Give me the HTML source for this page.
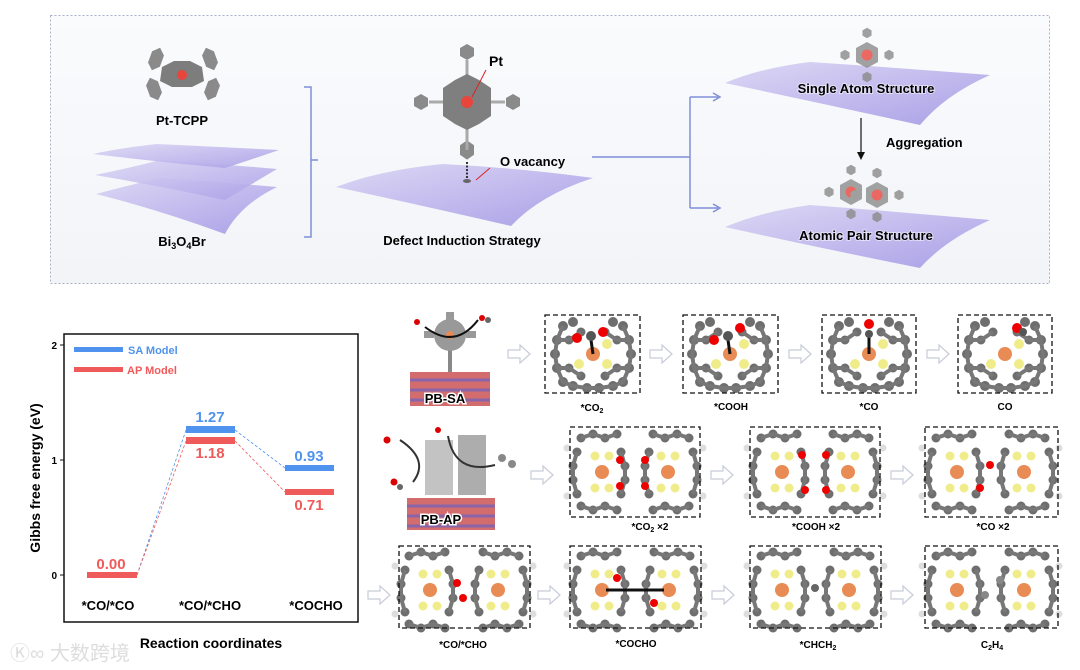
<!DOCTYPE html>
<html><head><meta charset="utf-8"><style>
html,body{margin:0;padding:0;background:#fff;}
svg{display:block;font-family:"Liberation Sans",Arial,sans-serif;}
</style></head><body>
<svg width="1080" height="670" viewBox="0 0 1080 670" xmlns="http://www.w3.org/2000/svg">
<defs>
<linearGradient id="sheet" x1="0" y1="0" x2="1" y2="1">
<stop offset="0" stop-color="#dcd8f4"/><stop offset="0.5" stop-color="#c4bcee"/><stop offset="1" stop-color="#a99fe6"/>
</linearGradient>
<linearGradient id="bg" x1="0" y1="0" x2="0" y2="1"><stop offset="0" stop-color="#fafbfd"/><stop offset="1" stop-color="#f2f4f8"/></linearGradient>
<g id="hex"><polygon points="0,-8 7,-4 7,4 0,8 -7,4 -7,-4" fill="#8a8a8a"/></g>
<g id="ring">
<g fill="#6e6e6e">
<circle cx="-30" cy="-28" r="5"/><circle cx="-20" cy="-32" r="5"/><circle cx="20" cy="-32" r="5"/><circle cx="30" cy="-28" r="5"/>
<circle cx="-36" cy="-14" r="5"/><circle cx="-38" cy="0" r="5"/><circle cx="-36" cy="14" r="5"/>
<circle cx="36" cy="-14" r="5"/><circle cx="38" cy="0" r="5"/><circle cx="36" cy="14" r="5"/>
<circle cx="-30" cy="28" r="5"/><circle cx="-20" cy="32" r="5"/><circle cx="-6" cy="34" r="5"/><circle cx="6" cy="34" r="5"/><circle cx="20" cy="32" r="5"/><circle cx="30" cy="28" r="5"/>
<circle cx="-24" cy="-14" r="4.5"/><circle cx="24" cy="-14" r="4.5"/><circle cx="-24" cy="14" r="4.5"/><circle cx="24" cy="14" r="4.5"/>
<circle cx="-12" cy="22" r="4.5"/><circle cx="12" cy="22" r="4.5"/><circle cx="-12" cy="-22" r="4.5"/><circle cx="12" cy="-22" r="4.5"/>
</g>
<g stroke="#777" stroke-width="4" fill="none">
<path d="M-30,-28 L-36,-14 L-38,0 L-36,14 L-30,28 L-20,32 L-6,34 L6,34 L20,32 L30,28 L36,14 L38,0 L36,-14 L30,-28"/>
<path d="M-24,-14 L-12,-22 M24,-14 L12,-22 M-24,14 L-12,22 M24,14 L12,22 M-36,-14 L-24,-14 M36,-14 L24,-14 M-36,14 L-24,14 M36,14 L24,14"/>
</g>
<circle cx="-14" cy="10" r="5" fill="#f0ec8a"/><circle cx="14" cy="10" r="5" fill="#f0ec8a"/><circle cx="14" cy="-10" r="5" fill="#f0ec8a"/>
<circle r="7" fill="#e98b55"/>
</g>
<g id="half">
<g fill="#6e6e6e">
<circle cx="-22" cy="-34" r="4.5"/><circle cx="-10" cy="-38" r="4.5"/><circle cx="2" cy="-34" r="4.5"/><circle cx="14" cy="-38" r="4.5"/>
<circle cx="-26" cy="-20" r="4.5"/><circle cx="18" cy="-20" r="4.5"/><circle cx="-30" cy="-6" r="4.5"/><circle cx="22" cy="-6" r="4.5"/>
<circle cx="-30" cy="8" r="4.5"/><circle cx="22" cy="8" r="4.5"/><circle cx="-26" cy="22" r="4.5"/><circle cx="18" cy="22" r="4.5"/>
<circle cx="-22" cy="34" r="4.5"/><circle cx="-10" cy="38" r="4.5"/><circle cx="2" cy="34" r="4.5"/><circle cx="14" cy="38" r="4.5"/>
</g>
<g stroke="#777" stroke-width="4" fill="none"><path d="M-22,-34 L-10,-38 L2,-34 L14,-38 M-22,34 L-10,38 L2,34 L14,38 M-26,-20 L-30,-6 L-30,8 L-26,22 M18,-20 L22,-6 L22,8 L18,22"/></g>
<circle cx="-8" cy="-16" r="4.5" fill="#f0ec8a"/><circle cx="6" cy="-16" r="4.5" fill="#f0ec8a"/><circle cx="-8" cy="16" r="4.5" fill="#f0ec8a"/><circle cx="6" cy="16" r="4.5" fill="#f0ec8a"/>
<circle cx="-1" cy="0" r="7" fill="#e98b55"/>
<circle cx="-36" cy="-24" r="3.5" fill="#ddd"/><circle cx="-36" cy="24" r="3.5" fill="#ddd"/>
</g>
<g id="arr"><path d="M0,-4 H12 V-9 L22,0 L12,9 V4 H0 Z" fill="#fff" stroke="#c8ccd8" stroke-width="1.2"/></g>
<g id="mol">
<use href="#hex" transform="translate(0,-22) scale(0.65)"/><use href="#hex" transform="translate(-22,0) scale(0.65)"/><use href="#hex" transform="translate(22,0) scale(0.65)"/><use href="#hex" transform="translate(0,22) scale(0.65)"/>
<polygon points="0,-13 11,-7 11,7 0,13 -11,7 -11,-7" fill="#8c8c8c"/><circle r="5.5" fill="#e8453c"/>
</g>
</defs>

<!-- top panel -->
<rect x="50.5" y="15.5" width="999" height="268" fill="url(#bg)" stroke="#a9b0c8" stroke-dasharray="2,2"/>
<!-- Pt-TCPP -->
<g transform="translate(182,75)">
<use href="#hex" transform="translate(-26,-16) rotate(20) scale(0.9,1.5)"/><use href="#hex" transform="translate(28,-16) rotate(-20) scale(0.9,1.5)"/>
<use href="#hex" transform="translate(-28,14) rotate(-20) scale(0.9,1.5)"/><use href="#hex" transform="translate(30,14) rotate(20) scale(0.9,1.5)"/>
<polygon points="-20,-8 -8,-14 8,-14 20,-8 22,6 10,12 -10,12 -22,6" fill="#7d7d7d"/><circle r="5" fill="#e8453c"/>
</g>
<text x="182" y="125" font-size="13" font-weight="bold" text-anchor="middle">Pt-TCPP</text>
<!-- Bi3O4Br stack -->
<g fill="url(#sheet)">
<path d="M96,194 Q130,185 160,178 Q220,182 277,187 Q240,205 225,234 Q160,210 96,194 Z"/>
<path d="M95,175 Q130,168 160,160 Q220,164 277,169 Q250,185 225,200 Q160,186 95,175 Z" opacity="0.92"/>
<path d="M93,154 Q120,148 157,144 Q220,147 279,150 Q250,160 225,168 Q160,162 93,154 Z" opacity="0.92"/>
</g>
<text x="182" y="246" font-size="13" font-weight="bold" text-anchor="middle">Bi<tspan font-size="9" dy="3">3</tspan><tspan dy="-3">O</tspan><tspan font-size="9" dy="3">4</tspan><tspan dy="-3">Br</tspan></text>
<!-- bracket -->
<path d="M304,87 H311 V237 H304 M311,160 H318" fill="none" stroke="#7f8fd8" stroke-width="1.5"/>
<!-- center -->
<path d="M336,187 Q380,170 443,164 Q520,168 593,178 Q540,195 511,226 Q420,205 336,187 Z" fill="url(#sheet)"/>
<g transform="translate(467,102)">
<use href="#hex" transform="translate(0,-50)"/><use href="#hex" transform="translate(-46,0)"/><use href="#hex" transform="translate(46,0)"/><use href="#hex" transform="translate(0,48) scale(1,1.2)"/>
<rect x="-1.5" y="-42" width="3" height="90" fill="#aaa"/><rect x="-38" y="-1.5" width="76" height="3" fill="#aaa"/>
<polygon points="0,-28 12,-22 24,-14 24,14 12,22 0,28 -12,22 -24,14 -24,-14 -12,-22" fill="#7f7f7f"/>
<circle r="6" fill="#e8453c"/>
</g>
<line x1="467" y1="162" x2="467" y2="180" stroke="#333" stroke-dasharray="2,1.5" stroke-width="2"/>
<ellipse cx="467" cy="181" rx="4" ry="2" fill="#666"/>
<line x1="486" y1="70" x2="472" y2="97" stroke="#d22" stroke-width="1"/>
<line x1="490" y1="168" x2="476" y2="180" stroke="#d22" stroke-width="1"/>
<text x="489" y="66" font-size="14" font-weight="bold">Pt</text>
<text x="500" y="166" font-size="13" font-weight="bold">O vacancy</text>
<text x="462" y="245" font-size="13" font-weight="bold" text-anchor="middle">Defect Induction Strategy</text>
<!-- connectors -->
<path d="M592,157 H690 M690,97 V208 M690,97 H718 M690,208 H718" fill="none" stroke="#7f8fd8" stroke-width="1.5"/>
<path d="M713,93 L720,97 L713,101 M713,204 L720,208 L713,212" fill="none" stroke="#7f8fd8" stroke-width="1.5"/>
<!-- right sheets -->
<path d="M725,83 Q760,68 810,62 Q900,68 990,75 Q945,95 920,125 Q820,103 725,83 Z" fill="url(#sheet)"/>
<path d="M725,227 Q760,212 810,205 Q900,212 990,220 Q945,240 920,268 Q820,248 725,227 Z" fill="url(#sheet)"/>
<g opacity="0.8"><use href="#mol" transform="translate(867,55)"/></g>
<g opacity="0.8"><use href="#mol" transform="translate(851,192)"/><use href="#mol" transform="translate(877,195)"/></g>
<text x="866" y="93" font-size="13" font-weight="bold" text-anchor="middle" stroke="#fff" stroke-width="2" stroke-opacity="0.5" paint-order="stroke">Single Atom Structure</text>
<text x="866" y="240" font-size="13" font-weight="bold" text-anchor="middle" stroke="#fff" stroke-width="2" stroke-opacity="0.5" paint-order="stroke">Atomic Pair Structure</text>
<line x1="861" y1="118" x2="861" y2="157" stroke="#111" stroke-width="1.2"/>
<path d="M857,152 L861,160 L865,152 Z" fill="#111"/>
<text x="886" y="147" font-size="13" font-weight="bold">Aggregation</text>

<!-- chart -->
<rect x="64" y="334" width="294" height="288" fill="#fff" stroke="#111" stroke-width="1.5"/>
<g font-size="10" font-weight="bold" text-anchor="end"><text x="57" y="349">2</text><text x="57" y="464">1</text><text x="57" y="579">0</text></g>
<path d="M60,345 H64 M60,460 H64 M60,575 H64" stroke="#111"/>
<text transform="translate(40,478) rotate(-90)" font-size="14" font-weight="bold" text-anchor="middle">Gibbs free energy (eV)</text>
<text x="211" y="648" font-size="14" font-weight="bold" text-anchor="middle">Reaction coordinates</text>
<g font-size="13" font-weight="bold" text-anchor="middle"><text x="108" y="610">*CO/*CO</text><text x="210" y="610">*CO/*CHO</text><text x="316" y="610">*COCHO</text></g>
<rect x="74" y="347" width="49" height="5" fill="#4f93ef"/><rect x="74" y="367" width="49" height="5" fill="#ef5a5a"/>
<text x="128" y="354" font-size="11" font-weight="bold" fill="#4f93ef">SA Model</text>
<text x="127" y="374" font-size="11" font-weight="bold" fill="#ef5a5a">AP Model</text>
<g stroke-width="0.8" stroke-dasharray="3,2" fill="none">
<path d="M137,575 L186,430 M235,430 L285,468" stroke="#4f93ef"/>
<path d="M137,575 L186,441 M235,441 L285,492" stroke="#ef5a5a"/>
</g>
<rect x="87" y="572" width="50" height="6" fill="#ef5a5a"/>
<rect x="186" y="426" width="49" height="7" fill="#4f93ef"/><rect x="186" y="437" width="49" height="7" fill="#ef5a5a"/>
<rect x="285" y="465" width="49" height="6" fill="#4f93ef"/><rect x="285" y="489" width="49" height="6" fill="#ef5a5a"/>
<g font-size="15" font-weight="bold" text-anchor="middle">
<text x="111" y="569" fill="#ef5a5a">0.00</text>
<text x="210" y="422" fill="#4f93ef">1.27</text><text x="210" y="458" fill="#ef5a5a">1.18</text>
<text x="309" y="461" fill="#4f93ef">0.93</text><text x="309" y="510" fill="#ef5a5a">0.71</text>
</g>
<!-- watermark -->
<text x="10" y="660" font-size="20" fill="#ddd" font-family="'Liberation Sans','Noto Sans CJK SC',sans-serif">Ⓚ∞ 大数跨境</text>

<!-- PB-SA model -->
<g>
<rect x="410" y="372" width="80" height="34" fill="#c84848" opacity="0.8"/>
<path d="M410,380 H490 M410,390 H490 M410,400 H490" stroke="#8a64a8" stroke-width="3"/>
<rect x="448" y="340" width="4" height="32" fill="#888"/>
<circle cx="450" cy="335" r="16" fill="#999"/><circle cx="450" cy="335" r="4" fill="#e98b55"/>
<rect x="446" y="312" width="8" height="8" fill="#999"/><rect x="424" y="331" width="10" height="7" fill="#999"/><rect x="466" y="331" width="10" height="7" fill="#999"/>
<path d="M425,327 Q455,350 478,320" stroke="#111" stroke-width="2" fill="none"/>
<circle cx="417" cy="322" r="3" fill="#d00"/><circle cx="482" cy="318" r="3" fill="#d00"/><circle cx="488" cy="320" r="3" fill="#666"/>
<text x="445" y="403" font-size="13" font-weight="bold" text-anchor="middle" stroke="#fff" stroke-width="3" paint-order="stroke">PB-SA</text>
</g>
<!-- PB-AP model -->
<g>
<rect x="407" y="498" width="88" height="32" fill="#c84848" opacity="0.8"/>
<path d="M407,506 H495 M407,516 H495 M407,526 H495" stroke="#8a64a8" stroke-width="3"/>
<rect x="425" y="440" width="28" height="55" fill="#aaa" opacity="0.7"/><rect x="458" y="435" width="28" height="60" fill="#999" opacity="0.8"/>
<path d="M400,440 Q430,460 413,482 M448,436 Q455,475 495,465" stroke="#333" stroke-width="2" fill="none"/>
<circle cx="387" cy="440" r="3.5" fill="#d00"/><circle cx="394" cy="482" r="3.5" fill="#d00"/><circle cx="400" cy="487" r="3" fill="#666"/><circle cx="438" cy="430" r="3" fill="#d00"/>
<circle cx="502" cy="458" r="4" fill="#888"/><circle cx="512" cy="464" r="4" fill="#888"/>
<text x="441" y="524" font-size="13" font-weight="bold" text-anchor="middle" stroke="#fff" stroke-width="3" paint-order="stroke">PB-AP</text>
</g>

<!-- row1 SA boxes -->
<g>
<g transform="translate(593,354)"><use href="#ring"/><line x1="0" y1="0" x2="-2" y2="-14" stroke="#111" stroke-width="3"/><circle cx="-16" cy="-16" r="5" fill="#e00"/><circle cx="-2" cy="-18" r="5" fill="#555"/><circle cx="10" cy="-22" r="5" fill="#e00"/></g>
<g transform="translate(730,354)"><use href="#ring"/><line x1="0" y1="0" x2="-2" y2="-14" stroke="#111" stroke-width="3"/><circle cx="-16" cy="-14" r="5" fill="#e00"/><circle cx="-2" cy="-18" r="5" fill="#555"/><circle cx="10" cy="-26" r="5" fill="#e00"/></g>
<g transform="translate(869,354)"><use href="#ring"/><line x1="0" y1="0" x2="0" y2="-18" stroke="#111" stroke-width="3"/><circle cx="0" cy="-20" r="4" fill="#555"/><circle cx="0" cy="-30" r="5" fill="#e00"/></g>
<g transform="translate(1005,354)"><use href="#ring"/><circle cx="12" cy="-26" r="5" fill="#e00"/><circle cx="18" cy="-22" r="4" fill="#555"/></g>
<g fill="none" stroke="#111" stroke-width="1.3" stroke-dasharray="5,3">
<rect x="545" y="315" width="95" height="78"/><rect x="683" y="315" width="95" height="78"/><rect x="822" y="315" width="94" height="78"/><rect x="958" y="315" width="94" height="78"/>
</g>
</g>
<g font-size="10" text-anchor="middle" font-weight="bold">
<text x="592" y="411">*CO<tspan font-size="7" dy="2">2</tspan></text><text x="731" y="410">*COOH</text><text x="869" y="410">*CO</text><text x="1005" y="410">CO</text>
</g>
<!-- row2 -->
<g>
<g transform="translate(603,472)"><use href="#half"/></g><g transform="translate(667,472) scale(-1,1)"><use href="#half"/></g>
<g transform="translate(783,472)"><use href="#half"/></g><g transform="translate(847,472) scale(-1,1)"><use href="#half"/></g>
<g transform="translate(958,472)"><use href="#half"/></g><g transform="translate(1023,472) scale(-1,1)"><use href="#half"/></g>
<g fill="#e00"><circle cx="620" cy="460" r="4"/><circle cx="620" cy="486" r="4"/><circle cx="645" cy="460" r="4"/><circle cx="645" cy="486" r="4"/>
<circle cx="802" cy="455" r="4"/><circle cx="805" cy="490" r="4"/><circle cx="826" cy="455" r="4"/><circle cx="826" cy="490" r="4"/>
<circle cx="990" cy="465" r="4"/><circle cx="980" cy="488" r="4"/></g>
<g fill="none" stroke="#111" stroke-width="1.3" stroke-dasharray="5,3">
<rect x="570" y="427" width="130" height="90"/><rect x="750" y="427" width="130" height="90"/><rect x="925" y="427" width="133" height="90"/>
</g>
</g>
<g font-size="10" text-anchor="middle" font-weight="bold">
<text x="650" y="530">*CO<tspan font-size="7" dy="2">2</tspan><tspan dy="-2"> ×2</tspan></text><text x="816" y="530">*COOH ×2</text><text x="993" y="530">*CO ×2</text>
</g>
<!-- row3 -->
<g>
<g transform="translate(431,590)"><use href="#half"/></g><g transform="translate(497,590) scale(-1,1)"><use href="#half"/></g>
<g transform="translate(603,590)"><use href="#half"/></g><g transform="translate(668,590) scale(-1,1)"><use href="#half"/></g>
<g transform="translate(783,590)"><use href="#half"/></g><g transform="translate(848,590) scale(-1,1)"><use href="#half"/></g>
<g transform="translate(958,590)"><use href="#half"/></g><g transform="translate(1023,590) scale(-1,1)"><use href="#half"/></g>
<g fill="#e00"><circle cx="457" cy="583" r="4"/><circle cx="463" cy="598" r="4"/><circle cx="617" cy="578" r="4"/><circle cx="654" cy="603" r="4"/></g>
<path d="M606,590 H664" stroke="#111" stroke-width="3"/>
<circle cx="815" cy="588" r="4" fill="#666"/><circle cx="1000" cy="580" r="4" fill="#888"/><circle cx="985" cy="595" r="4" fill="#888"/>
<g fill="none" stroke="#111" stroke-width="1.3" stroke-dasharray="5,3">
<rect x="399" y="546" width="131" height="82"/><rect x="570" y="546" width="131" height="82"/><rect x="750" y="546" width="131" height="82"/><rect x="925" y="546" width="133" height="82"/>
</g>
</g>
<g font-size="10" text-anchor="middle" font-weight="bold">
<text x="463" y="648">*CO/*CHO</text><text x="636" y="647">*COCHO</text><text x="818" y="648">*CHCH<tspan font-size="7" dy="2">2</tspan></text><text x="992" y="648">C<tspan font-size="7" dy="2">2</tspan><tspan dy="-2">H</tspan><tspan font-size="7" dy="2">4</tspan></text>
</g>
<!-- hollow arrows -->
<g>
<use href="#arr" x="508" y="354"/><use href="#arr" x="650" y="354"/><use href="#arr" x="789" y="354"/><use href="#arr" x="927" y="354"/>
<use href="#arr" x="531" y="475"/><use href="#arr" x="711" y="475"/><use href="#arr" x="891" y="475"/>
<use href="#arr" x="368" y="595"/><use href="#arr" x="538" y="595"/><use href="#arr" x="712" y="595"/><use href="#arr" x="891" y="595"/>
</g>
</svg>
</body></html>
